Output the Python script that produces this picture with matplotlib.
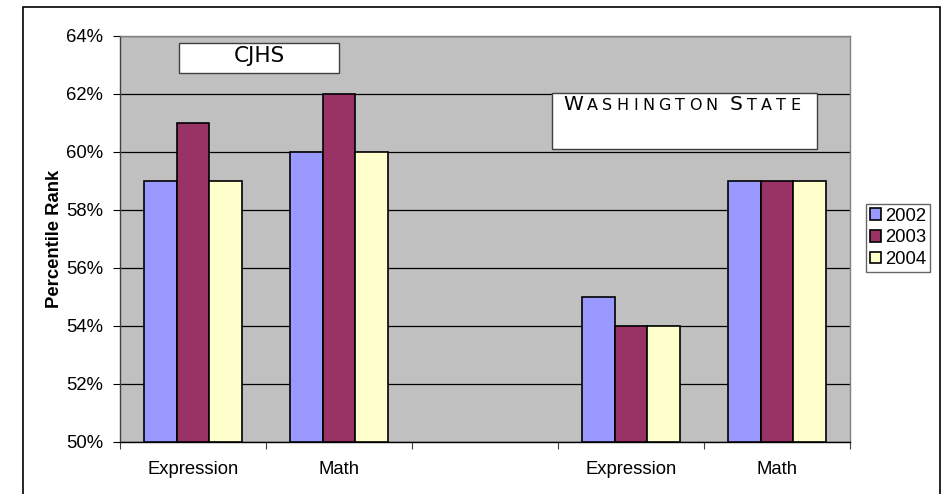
import matplotlib.pyplot as plt
import numpy as np
from matplotlib.patches import Rectangle

categories = ['Expression', 'Math', '', 'Expression', 'Math']
years = ['2002', '2003', '2004']
vals_2002 = [59, 60, np.nan, 55, 59]
vals_2003 = [61, 62, np.nan, 54, 59]
vals_2004 = [59, 60, np.nan, 54, 59]
colors = ['#9999FF', '#993366', '#FFFFCC']

plt.rcParams['font.family'] = ['Liberation Sans', 'DejaVu Sans']

fig = plt.figure(figsize=(9.43, 4.94), dpi=100)
ax = fig.add_axes([120/943, 52/494, 730/943, 406/494])
ax.set_facecolor('#C0C0C0')

x = np.arange(len(categories))
w = 0.222
for i, (vals, c) in enumerate(zip([vals_2002, vals_2003, vals_2004], colors)):
    v = np.array(vals, dtype=float)
    ax.bar(x + (i - 1) * w, v - 50, w, bottom=50, color=c, edgecolor='black',
           linewidth=1.2, label=years[i], zorder=3)

ax.set_xlim(-0.5, 4.5)
ax.set_ylim(50, 64)
ax.set_yticks(range(50, 65, 2))
ax.set_yticklabels([f'{t}%' for t in range(50, 65, 2)], fontsize=13.3)
ax.yaxis.grid(True, color='black', linewidth=0.9, zorder=0)
ax.set_axisbelow(True)

ax.set_xticks(np.arange(-0.5, 5, 1))
ax.set_xticklabels([])
ax.set_xticks(x, minor=True)
ax.set_xticklabels(categories, minor=True, fontsize=13.3)
ax.tick_params(axis='x', which='minor', length=0, pad=14)
ax.tick_params(axis='x', which='major', length=5, width=0.8, color='#404040')
ax.tick_params(axis='y', length=5, width=0.8, pad=7)

ax.set_ylabel('Percentile Rank', fontsize=13.3, fontweight='bold', labelpad=2)

ax.spines['left'].set_color('#404040')
ax.spines['bottom'].set_color('black')
ax.spines['top'].set_color('#808080')
ax.spines['right'].set_color('#808080')
for s in ax.spines.values():
    s.set_linewidth(1.0)

leg = ax.legend(loc='upper left', bbox_to_anchor=(866/943, 1 - 204/494),
                bbox_transform=fig.transFigure, borderaxespad=0, fontsize=13.3,
                frameon=True, fancybox=False, edgecolor='#404040',
                handlelength=0.6, handleheight=0.6, handletextpad=0.25,
                labelspacing=0.25, borderpad=0.2)
leg.get_frame().set_linewidth(1.0)

# title boxes
fig.patches.append(Rectangle((179/943, 1 - 73/494), 160/943, 30/494,
                             transform=fig.transFigure, facecolor='white',
                             edgecolor='#404040', linewidth=1.0, zorder=5))
fig.text(259/943, 1 - 56/494, 'CJHS', family='DejaVu Sans', fontsize=15.5,
         ha='center', va='center', zorder=6)

fig.patches.append(Rectangle((552/943, 1 - 149/494), 265/943, 56/494,
                             transform=fig.transFigure, facecolor='white',
                             edgecolor='#404040', linewidth=1.0, zorder=5))

# small caps title, letter by letter with wide tracking
parts = [('W', 14.5), ('ASHINGTON', 11.5), (' ', 11.5), ('S', 14.5), ('TATE', 11.5)]
renderer = fig.canvas.get_renderer()
xpos = 563
for txt, sz in parts:
    if txt == ' ':
        xpos += 8
        continue
    for ch in txt:
        t = fig.text(xpos/943, 1 - 110/494, ch, family='DejaVu Sans', fontsize=sz,
                     ha='left', va='baseline', zorder=6)
        xpos += t.get_window_extent(renderer).width + 4.2

fig.patches.append(Rectangle((23/943, -0.1), 917/943, 1.1 - 7/494,
                             transform=fig.transFigure, facecolor='none',
                             edgecolor='black', linewidth=1.2, zorder=1))

fig.savefig('out.png', dpi=100)
